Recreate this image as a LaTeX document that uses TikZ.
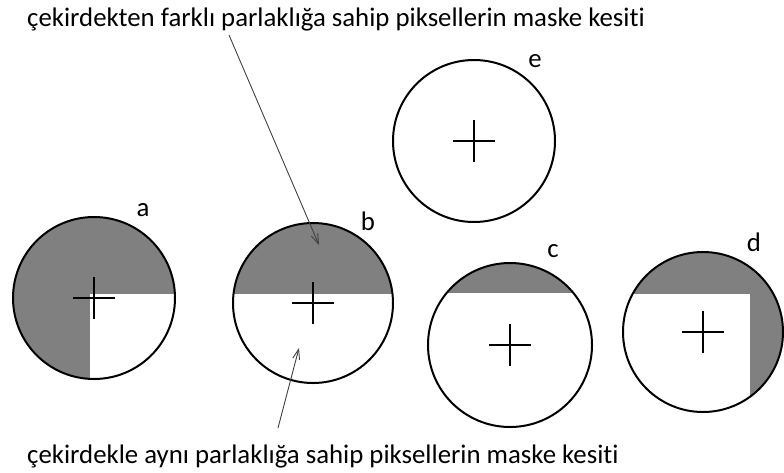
\documentclass[tikz,border=0pt]{standalone}
\usepackage{fontspec}
\setmainfont{Carlito}[Ligatures=NoCommon]
\usetikzlibrary{arrows.meta,calc}
\begin{document}
\begin{tikzpicture}[x=1pt, y=-1pt, >={Straight Barb[length=10pt,width=7pt]},
    ring/.style={line width=2pt},
    kesit/.style={fill=black!50},
    arti/.style={line width=1.5pt},
    etiket/.style={inner sep=0pt, font=\fontsize{26.8}{30}\selectfont},
    ok/.style={->, black!75, line width=0.9pt}]
    \useasboundingbox (0,0) rectangle (784,472);

    \coordinate (a) at (94,298);
    \coordinate (b) at (313,303);
    \coordinate (c) at (510,345);
    \coordinate (d) at (703,332);
    \coordinate (e) at (474,141);

    % a
    \begin{scope}
        \clip (a) circle (81);
        \fill[kesit] (0,200) rectangle (200,294);
        \fill[kesit] (0,294) rectangle (90,400);
    \end{scope}
    % b
    \begin{scope}
        \clip (b) circle (80);
        \fill[kesit] (220,200) rectangle (410,294);
    \end{scope}
    % c
    \begin{scope}
        \clip (c) circle (82);
        \fill[kesit] (420,250) rectangle (600,293);
    \end{scope}
    % d
    \begin{scope}
        \clip (d) circle (80);
        \fill[kesit] (610,240) rectangle (790,294);
        \fill[kesit] (750,294) rectangle (790,420);
    \end{scope}

    \draw[ring] (a) circle (81);
    \draw[ring] (b) circle (80);
    \draw[ring] (c) circle (82);
    \draw[ring] (d) circle (80);
    \draw[ring] (e) circle (81);

    \draw[arti] ($(a)+(-21,0)$) -- ($(a)+(21,0)$) ($(a)+(0,-21)$) -- ($(a)+(0,21)$);
    \draw[arti] ($(b)+(-21,0)$) -- ($(b)+(21,0)$) ($(b)+(0,-21)$) -- ($(b)+(0,21)$);
    \draw[arti] ($(c)+(-21,0)$) -- ($(c)+(21,0)$) ($(c)+(0,-21)$) -- ($(c)+(0,21)$);
    \draw[arti] ($(d)+(-21,0)$) -- ($(d)+(21,0)$) ($(d)+(0,-21)$) -- ($(d)+(0,21)$);
    \draw[arti] ($(e)+(-21,0)$) -- ($(e)+(21,0)$) ($(e)+(0,-21)$) -- ($(e)+(0,21)$);

    \node[etiket] (la) at (143,210) {a};
    \node[etiket] (lb) at (368,221) {b};
    \node[etiket] (lc) at (553,251) {c};
    \node[etiket] (ld) at (754,242) {d};
    \node[etiket] (le) at (535,61) {e};

    \node[etiket, anchor=base west] (farkli) at (27,26) {çekirdekten farklı parlaklığa sahip piksellerin maske kesiti};
    \node[etiket, anchor=base west] (ayni) at (27,463) {çekirdekle aynı parlaklığa sahip piksellerin maske kesiti};

    \coordinate (farkli ucu) at (229,35);
    \coordinate (gri) at (319,245);
    \coordinate (ayni ucu) at (278,428);
    \coordinate (beyaz) at (299,348);
    \draw[ok] (farkli ucu) -- (gri);
    \draw[ok] (ayni ucu) -- (beyaz);
\end{tikzpicture}
\end{document}
